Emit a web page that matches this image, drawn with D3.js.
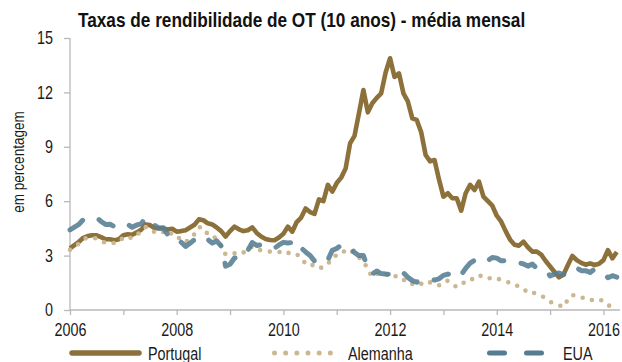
<!DOCTYPE html>
<html>
<head>
<meta charset="utf-8">
<script src="https://cdn.jsdelivr.net/npm/d3@7/dist/d3.min.js"></script>
<style>
  body { margin: 0; background: #fff; }
  svg { display: block; }
  text { font-family: "Liberation Sans", Arial, sans-serif; fill: #1a1a1a; }
</style>
</head>
<body>
<svg id="chart" width="622" height="362"></svg>
<script>
// Monthly averages of 10-year government bond yields, Jan 2006 – Apr 2016 (%)
const startYear = 2006;
const titleText = "Taxas de rendibilidade de OT (10 anos) - média mensal";
const yAxisLabel = "em percentagem";
const seriesNames = ["Portugal", "Alemanha", "EUA"];

const portugal = [
  3.40, 3.58, 3.76, 3.98, 4.08, 4.12, 4.12, 4.02, 3.90, 3.90, 3.85, 3.90,
  4.12, 4.18, 4.15, 4.28, 4.42, 4.72, 4.68, 4.52, 4.50, 4.50, 4.44, 4.48,
  4.32, 4.35, 4.40, 4.55, 4.70, 5.00, 4.95, 4.78, 4.72, 4.55, 4.35, 4.05,
  4.35, 4.60, 4.45, 4.35, 4.40, 4.56, 4.25, 4.05, 3.92, 3.86, 3.85, 4.00,
  4.20, 4.60, 4.32, 4.85, 5.10, 5.60, 5.40, 5.30, 6.10, 6.00, 6.90, 6.53,
  7.00, 7.30, 7.80, 9.19, 9.60, 10.85, 12.13, 10.90, 11.40, 11.70, 11.95, 13.10,
  13.88, 12.85, 13.05, 11.95, 11.50, 10.57, 10.48, 9.80, 8.55, 8.20, 8.27, 7.20,
  6.25, 6.44, 6.16, 6.16, 5.48, 6.44, 6.90, 6.62, 7.08, 6.25, 6.00, 5.75,
  5.20, 4.87, 4.35, 3.88, 3.60, 3.55, 3.77, 3.46, 3.22, 3.22, 3.05, 2.70,
  2.40, 2.10, 1.80, 1.95, 2.48, 2.98, 2.75, 2.60, 2.50, 2.57, 2.48, 2.55,
  2.75, 3.30, 2.85, 3.20
];

const alemanha = [
  3.32, 3.48, 3.66, 3.92, 3.98, 3.96, 3.96, 3.80, 3.70, 3.73, 3.69, 3.74,
  4.02, 4.05, 3.95, 4.16, 4.30, 4.57, 4.52, 4.29, 4.22, 4.31, 4.11, 4.25,
  4.02, 3.92, 3.73, 3.98, 4.18, 4.57, 4.54, 4.17, 4.14, 3.88, 3.56, 3.06,
  3.08, 3.13, 3.06, 3.16, 3.42, 3.49, 3.31, 3.30, 3.25, 3.22, 3.22, 3.19,
  3.28, 3.16, 3.09, 3.10, 2.79, 2.58, 2.62, 2.35, 2.32, 2.35, 2.53, 2.91,
  3.02, 3.23, 3.22, 3.34, 3.06, 2.89, 2.74, 2.21, 1.83, 2.00, 1.91, 1.99,
  1.82, 1.86, 1.87, 1.69, 1.45, 1.43, 1.33, 1.44, 1.60, 1.52, 1.39, 1.36,
  1.58, 1.61, 1.42, 1.26, 1.37, 1.61, 1.62, 1.80, 1.93, 1.80, 1.72, 1.80,
  1.76, 1.64, 1.57, 1.50, 1.35, 1.33, 1.17, 0.95, 0.99, 0.86, 0.79, 0.64,
  0.45, 0.35, 0.26, 0.16, 0.58, 0.83, 0.77, 0.67, 0.68, 0.55, 0.55, 0.61,
  0.47, 0.25, 0.21, 0.19
];

const eua = [
  4.42, 4.57, 4.72, 4.99, 5.11, 5.11, 5.09, 4.88, 4.72, 4.73, 4.60, 4.56,
  4.76, 4.72, 4.56, 4.69, 4.75, 5.10, 5.00, 4.67, 4.52, 4.53, 4.15, 4.10,
  3.74, 3.74, 3.51, 3.68, 3.88, 4.10, 4.01, 3.89, 3.69, 3.81, 3.53, 2.42,
  2.52, 2.87, 2.82, 2.93, 3.29, 3.72, 3.56, 3.59, 3.40, 3.39, 3.40, 3.59,
  3.73, 3.69, 3.73, 3.85, 3.42, 3.20, 3.01, 2.70, 2.65, 2.54, 2.76, 3.29,
  3.39, 3.58, 3.41, 3.46, 3.17, 3.00, 3.00, 2.30, 1.98, 2.15, 2.01, 1.98,
  1.97, 1.97, 2.17, 2.05, 1.80, 1.62, 1.53, 1.68, 1.72, 1.75, 1.65, 1.72,
  1.91, 1.98, 1.96, 1.76, 1.93, 2.30, 2.58, 2.74, 2.81, 2.62, 2.72, 2.90,
  2.86, 2.71, 2.72, 2.71, 2.56, 2.60, 2.54, 2.42, 2.53, 2.30, 2.33, 2.21,
  1.88, 1.98, 2.04, 1.94, 2.20, 2.36, 2.32, 2.17, 2.17, 2.07, 2.26, 2.24,
  2.09, 1.78, 1.89, 1.81
];

const yTicks = [0, 3, 6, 9, 12, 15];
const xTicks = [2006, 2007, 2008, 2009, 2010, 2011, 2012, 2013, 2014, 2015, 2016];
const xTickLabels = [2006, 2008, 2010, 2012, 2014, 2016];

const svg = d3.select("#chart");
const plot = { left: 70, right: 620, top: 38, bottom: 310 };

// Narrow lettering: Liberation Sans compressed horizontally
const NARROW = 0.82;
const labelSize = "17.5px";

const x = d3.scaleLinear().domain([2006, 2016.31]).range([plot.left, plot.right]);
const y = d3.scaleLinear().domain([0, 15]).range([plot.bottom, plot.top]);

const axisColor = "#b9b9b9";

// Title
svg.append("text")
  .attr("transform", `translate(78,27) scale(${NARROW},1)`)
  .style("font-size", "21px").style("font-weight", "bold").style("fill", "#111")
  .text(titleText);

// Y axis
const yAxis = svg.append("g").attr("transform", `translate(${plot.left},0)`)
  .call(d3.axisLeft(y).tickValues(yTicks).tickSize(6).tickPadding(11).tickFormat(d3.format("d")));
yAxis.select(".domain").attr("stroke", axisColor).attr("stroke-width", 1.3).attr("d", `M0,${plot.top}V${plot.bottom}`);
yAxis.selectAll(".tick line").attr("stroke", axisColor).attr("stroke-width", 1.3);
yAxis.selectAll(".tick text")
  .style("font-size", labelSize)
  .attr("x", -17 / NARROW)
  .attr("transform", `scale(${NARROW},1)`);

// X axis
const xAxis = svg.append("g").attr("transform", `translate(0,${plot.bottom})`)
  .call(d3.axisBottom(x).tickValues(xTicks).tickSize(5).tickPadding(9)
    .tickFormat(d => xTickLabels.includes(d) ? String(d) : ""));
xAxis.select(".domain").attr("stroke", axisColor).attr("stroke-width", 1.3).attr("d", `M${plot.left},0H${plot.right}`);
xAxis.selectAll(".tick line").attr("stroke", axisColor).attr("stroke-width", 1.3);
xAxis.selectAll(".tick text")
  .style("font-size", labelSize)
  .attr("transform", `scale(${NARROW},1)`);

// Y axis title
svg.append("text")
  .attr("transform", `translate(24,162) rotate(-90) scale(${NARROW},1)`)
  .attr("text-anchor", "middle")
  .style("font-size", "16.5px")
  .text(yAxisLabel);

// Series lines
const toPoints = arr => arr.map((v, i) => ({ t: startYear + i / 12, v }));
const line = d3.line().x(d => x(d.t)).y(d => y(d.v)).curve(d3.curveLinear);

const styles = {
  Portugal: { color: "#8c713a", width: 4.6, dash: null, opacity: 1 },
  Alemanha: { color: "#cbb792", width: 4.6, dash: "0,9.8", opacity: 1 },
  EUA: { color: "#557d92", width: 5, dash: "16,18", opacity: 0.88 }
};
const seriesData = { Portugal: portugal, Alemanha: alemanha, EUA: eua };

seriesNames.forEach(name => {
  const s = styles[name];
  svg.append("path")
    .datum(toPoints(seriesData[name]))
    .attr("d", line)
    .attr("fill", "none")
    .attr("stroke", s.color)
    .attr("stroke-width", s.width)
    .attr("stroke-linejoin", "round")
    .attr("stroke-linecap", s.dash ? "round" : "butt")
    .attr("stroke-dasharray", s.dash)
    .attr("opacity", s.opacity);
});

// Legend
const legendY = 353;
const legendItems = [
  { name: "Portugal", x0: 72, x1: 139, tx: 148, dash: null },
  { name: "Alemanha", x0: 274.5, x1: 341.5, tx: 348, dash: "0,11.17" },
  { name: "EUA", x0: 489.5, x1: 541.5, tx: 563, dash: "15,22" }
];
legendItems.forEach(it => {
  const s = styles[it.name];
  svg.append("path")
    .attr("d", `M${it.x0},${legendY}H${it.x1}`)
    .attr("stroke", s.color)
    .attr("stroke-width", it.name === "Portugal" ? 5.5 : 5)
    .attr("stroke-linecap", "round")
    .attr("stroke-dasharray", it.dash)
    .attr("fill", "none");
  svg.append("text")
    .attr("transform", `translate(${it.tx},359.5) scale(${NARROW},1)`)
    .style("font-size", labelSize)
    .text(it.name);
});
</script>
</body>
</html>
